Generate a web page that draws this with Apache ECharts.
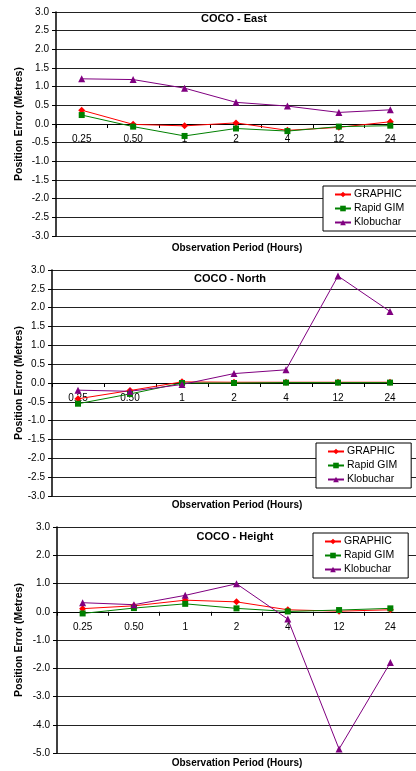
<!DOCTYPE html>
<html lang="en">
<head>
    <title>COCO position error</title>
    <meta charset="utf-8">
    <style>
        body { margin: 0; background: #fff; }
    </style>
</head>
<body>
<script type="text/javascript" src="https://cdn.jsdelivr.net/npm/echarts@6/dist/echarts.min.js"></script>
<div id="main" style="width: 416px;height: 771px"></div>
<script type="text/javascript">
    // observation periods (hours)
    var periods = ['0.25', '0.50', '1', '2', '4', '12', '24'];
    var seriesNames = ['GRAPHIC', 'Rapid GIM', 'Klobuchar'];

    // COCO - East
    var eastGraphic = [0.37, -0.01, -0.05, 0.03, -0.17, -0.09, 0.06];
    var eastRapid = [0.24, -0.07, -0.32, -0.12, -0.19, -0.07, -0.045];
    var eastKlob = [1.21, 1.19, 0.96, 0.58, 0.48, 0.31, 0.38];

    // COCO - North
    var northGraphic = [-0.42, -0.2, 0.03, 0.02, 0.02, 0.02, 0.02];
    var northRapid = [-0.55, -0.29, 0.0, 0.0, 0.01, 0.01, 0.01];
    var northKlob = [-0.19, -0.22, -0.04, 0.25, 0.35, 2.84, 1.9];

    // COCO - Height
    var heightGraphic = [0.11, 0.21, 0.41, 0.35, 0.07, 0.02, 0.07];
    var heightRapid = [-0.06, 0.13, 0.28, 0.12, 0.01, 0.06, 0.12];
    var heightKlob = [0.32, 0.25, 0.58, 0.99, -0.26, -4.86, -1.8];

    var colors = ['#ff0000', '#008000', '#800080'];
    var symbols = ['diamond', 'rect', 'triangle'];
    var font = 'Liberation Sans, Arial, sans-serif';

    var panels = [
        {title: 'COCO - East', data: [eastGraphic, eastRapid, eastKlob], min: -3, max: 3, step: 0.5,
         grid: {left: 56, top: 12, width: 362, height: 224}, titleY: 19, nameY: 248,
         legend: {left: 323, top: 186}},
        {title: 'COCO - North', data: [northGraphic, northRapid, northKlob], min: -3, max: 3, step: 0.5,
         grid: {left: 52, top: 270, width: 365, height: 226}, titleY: 279, nameY: 505,
         legend: {left: 316, top: 443}},
        {title: 'COCO - Height', data: [heightGraphic, heightRapid, heightKlob], min: -5, max: 3, step: 1,
         grid: {left: 57, top: 527, width: 363, height: 226}, titleY: 537, nameY: 763,
         legend: {left: 313, top: 533}}
    ];

    var grids = [], xAxes = [], yAxes = [], series = [], legends = [], texts = [];
    panels.forEach(function (p, k) {
        grids.push(p.grid);
        // the category axis sits on the 0.0 line: lift it from the grid bottom
        var zeroLift = (0 - p.min) / (p.max - p.min) * p.grid.height;
        xAxes.push({
            type: 'category',
            gridIndex: k,
            data: periods,
            boundaryGap: true,
            position: 'bottom',
            offset: -zeroLift,
            axisLine: {onZero: false, lineStyle: {color: '#000', width: 1}},
            axisTick: {show: true, length: 4, lineStyle: {color: '#000'}},
            axisLabel: {interval: 0, margin: 10.5, color: '#000', fontSize: 10, fontFamily: font},
            splitLine: {show: false}
        });
        yAxes.push({
            type: 'value',
            gridIndex: k,
            min: p.min,
            max: p.max,
            interval: p.step,
            name: 'Position Error (Metres)',
            nameLocation: 'middle',
            nameGap: p.grid.left - 25,   // keeps the name at the same x in every panel
            nameMoveOverlap: false,
            nameTextStyle: {fontWeight: 'bold', fontSize: 10.5, fontFamily: font, color: '#000'},
            axisLine: {show: true, lineStyle: {color: '#000', width: 1.5}},
            axisTick: {show: true, length: 4, lineStyle: {color: '#000'}},
            axisLabel: {margin: 7, color: '#000', fontSize: 10, fontFamily: font,
                formatter: function (v) { return v.toFixed(1); }},
            splitLine: {show: true, lineStyle: {color: '#222', width: 1}}
        });
        for (var s = 0; s < 3; s++) {
            series.push({
                name: seriesNames[s],
                type: 'line',
                xAxisIndex: k,
                yAxisIndex: k,
                data: p.data[s],
                symbol: symbols[s],
                symbolSize: s === 1 ? 6 : 7,
                color: colors[s],
                lineStyle: {width: 1, color: colors[s]},
                itemStyle: {color: colors[s]}
            });
        }
        legends.push({
            data: seriesNames,
            orient: 'vertical',
            left: p.legend.left,
            top: p.legend.top,
            padding: [3, 14, 3, 11],
            itemGap: 3,
            itemWidth: 16,
            itemHeight: 7,
            backgroundColor: '#fff',
            borderColor: '#000',
            borderWidth: 1,
            textStyle: {fontSize: 10.5, fontFamily: font, color: '#000', padding: [0, 0, 0, -2]}
        });
        texts.push({
            type: 'text',
            x: p.grid.left + 178,
            y: p.titleY,
            style: {text: p.title, textAlign: 'center', textVerticalAlign: 'middle',
                font: 'bold 11px Liberation Sans, Arial, sans-serif', fill: '#000'}
        });
        texts.push({
            type: 'text',
            x: 237,
            y: p.nameY,
            style: {text: 'Observation Period (Hours)', textAlign: 'center', textVerticalAlign: 'middle',
                font: 'bold 10px Liberation Sans, Arial, sans-serif', fill: '#000'}
        });
    });

    var myChart = echarts.init(document.getElementById('main'));
    myChart.setOption({
        animation: false,
        backgroundColor: '#fff',
        grid: grids,
        xAxis: xAxes,
        yAxis: yAxes,
        legend: legends,
        graphic: texts,
        series: series
    });
</script>
</body>
</html>
